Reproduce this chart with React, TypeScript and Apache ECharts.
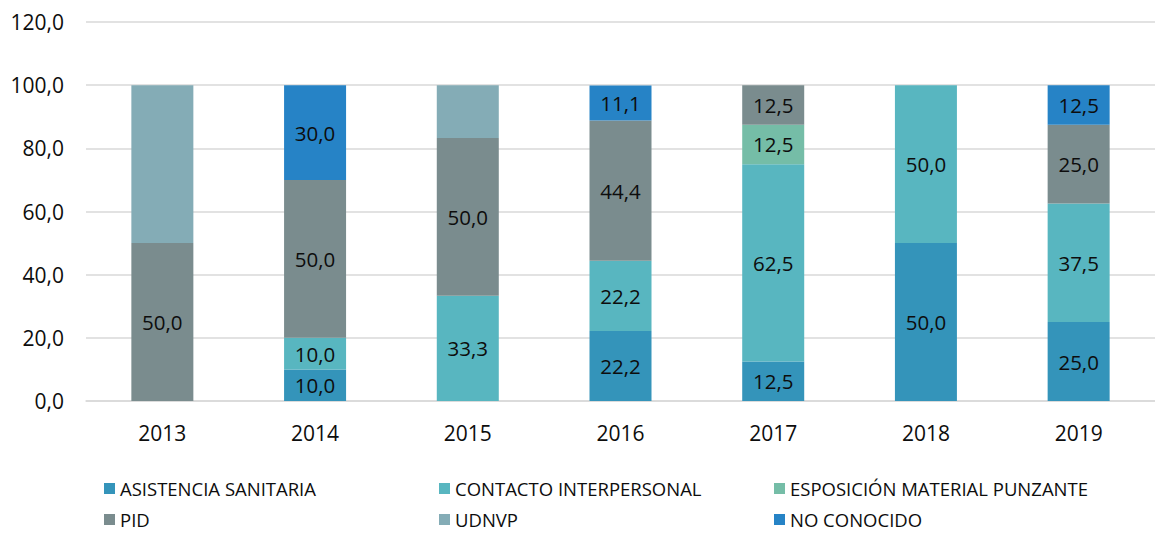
import React, { useEffect, useRef } from "react";
import * as echarts from "echarts";

const years = ["2013", "2014", "2015", "2016", "2017", "2018", "2019"];
const seriesNames = [
  "ASISTENCIA SANITARIA",
  "CONTACTO INTERPERSONAL",
  "ESPOSICIÓN MATERIAL PUNZANTE",
  "PID",
  "UDNVP",
  "NO CONOCIDO",
];
const asistencia = [null, 10.0, null, 22.2, 12.5, 50.0, 25.0];
const contacto = [null, 10.0, 33.3, 22.2, 62.5, 50.0, 37.5];
const esposicion = [null, null, null, null, 12.5, null, null];
const pid = [50.0, 50.0, 50.0, 44.4, 12.5, null, 25.0];
const udnvp = [50.0, null, 16.7, null, null, null, null];
const noConocido = [null, 30.0, null, 11.1, null, null, 12.5];
const yTicks = [0, 20, 40, 60, 80, 100, 120];

const colors = ["#3494BA", "#58B6C0", "#75BDA7", "#7A8C8E", "#84ACB6", "#2683C6"];
const FONT = "'Open Sans', sans-serif";
const TXT = "#0d0d0d";

const fmt = (v: number) => v.toFixed(1).replace(".", ",");

export default function App() {
  const ref = useRef<HTMLDivElement>(null);
  useEffect(() => {
    if (!ref.current) return;
    const chart = echarts.init(ref.current, null, { renderer: "svg" });
    const dataSets = [asistencia, contacto, esposicion, pid, udnvp, noConocido];
    const showLabel = [true, true, true, true, false, true];
    const legendPos = [
      { left: 99, top: 474 },
      { left: 434, top: 474 },
      { left: 769, top: 474 },
      { left: 99, top: 505 },
      { left: 434, top: 505 },
      { left: 769, top: 505 },
    ];
    chart.setOption({
      animation: false,
      color: colors,
      grid: { left: 86, top: 22, width: 1082, height: 379, containLabel: false },
      legend: seriesNames.map((n, i) => ({
        data: [n],
        left: legendPos[i].left,
        top: legendPos[i].top,
        itemWidth: 11,
        itemHeight: 11,
        icon: "rect",
        itemGap: 8,
        textStyle: { fontFamily: FONT, fontSize: 18.5, color: TXT },
        selectedMode: false,
      })),
      xAxis: {
        type: "category",
        data: years,
        axisLine: { show: true, lineStyle: { color: "#D9D9D9", width: 1.5 } },
        axisTick: { show: false },
        axisLabel: { fontFamily: FONT, fontSize: 21, color: TXT, margin: 21 },
      },
      yAxis: {
        type: "value",
        min: yTicks[0],
        max: yTicks[yTicks.length - 1],
        interval: 20,
        axisLine: { show: false },
        axisTick: { show: false },
        splitLine: { lineStyle: { color: "#D9D9D9", width: 1.5 } },
        axisLabel: {
          fontFamily: FONT,
          fontSize: 21,
          color: TXT,
          margin: 22,
          formatter: (v: number) => fmt(v),
        },
      },
      series: seriesNames.map((n, i) => ({
        name: n,
        type: "bar",
        stack: "total",
        barWidth: 62,
        data: dataSets[i],
        itemStyle: { color: colors[i] },
        label: {
          show: showLabel[i],
          position: "inside",
          fontFamily: FONT,
          fontSize: 20.5,
          color: TXT,
          formatter: (p: any) => (p.value == null ? "" : fmt(p.value)),
        },
      })),
    });
    return () => chart.dispose();
  }, []);
  return (
    <div
      ref={ref}
      style={{ position: "fixed", left: 0, top: 0, width: 1155, height: 537, background: "#fff" }}
    />
  );
}
